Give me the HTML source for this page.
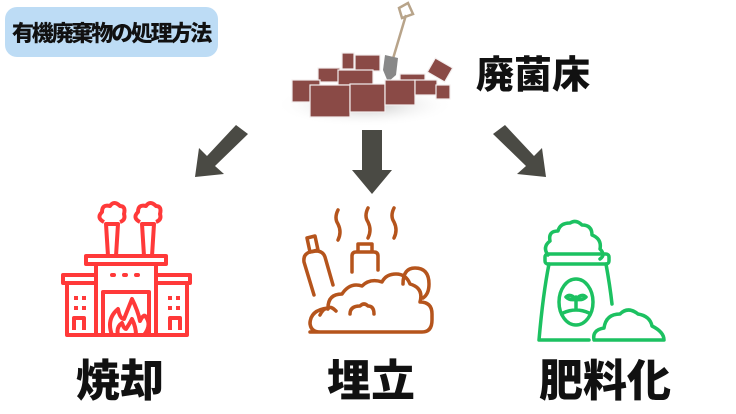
<!DOCTYPE html>
<html><head><meta charset="utf-8"><style>
body{margin:0;width:736px;height:414px;background:#fff;overflow:hidden;position:relative;font-family:"Liberation Sans","Noto Sans CJK JP",sans-serif}
.t{position:absolute;font-weight:900;color:#111;white-space:nowrap}
</style></head><body>
<div style="position:absolute;left:5px;top:7px;width:213px;height:50px;background:#bddcf5;border-radius:12px"></div>
<div class="t" style="left:12px;top:16px;font-size:22px;letter-spacing:-2.2px">有機廃棄物の処理方法</div>
<div class="t" style="left:476px;top:44px;font-size:38px">廃菌床</div>
<div class="t" style="left:76px;top:345px;font-size:44px">焼却</div>
<div class="t" style="left:327px;top:345px;font-size:44px">埋立</div>
<div class="t" style="left:539px;top:345px;font-size:44px">肥料化</div>
<svg width="736" height="414" style="position:absolute;left:0;top:0">
<defs><radialGradient id="sh"><stop offset="0" stop-color="#999" stop-opacity=".6"/><stop offset="1" stop-color="#fff" stop-opacity="0"/></radialGradient></defs>
<ellipse cx="365" cy="105" rx="90" ry="22" fill="url(#sh)"/>
<path d="M408 3 L413 14 L402 18 L399 8 Z M406 15 L392 62" stroke="#b8a48a" stroke-width="2.5" fill="none"/>
<path d="M385 55 L398 58 L396 75 L388 82 L383 70Z" fill="#888"/>
<g fill="#8a4a46" stroke="#f3eeee" stroke-width="1.2">
<rect x="342" y="53" width="12" height="16"/><rect x="355" y="55" width="25" height="16"/>
<rect x="318" y="68" width="22" height="14"/><rect x="338" y="70" width="35" height="15"/>
<rect x="430" y="62" width="20" height="16" transform="rotate(30 440 70)"/>
<rect x="400" y="74" width="25" height="12"/>
<rect x="292" y="80" width="28" height="22"/><rect x="310" y="85" width="40" height="32"/>
<rect x="350" y="84" width="35" height="28"/><rect x="385" y="80" width="30" height="25"/>
<rect x="415" y="80" width="22" height="15"/><rect x="436" y="85" width="14" height="14"/>
</g>
<g fill="#4a4a44">
<path d="M236 125 L248 134 L215 166 L224 174 L195 177 L199 148 L207 156 Z"/>
<path d="M362 130 L382 130 L382 170 L392 170 L372 194 L352 170 L362 170 Z"/>
<path d="M505 125 L493 134 L526 166 L517 174 L546 177 L542 148 L534 156 Z"/>
</g>
<g fill="none" stroke="#ff3939" stroke-width="4" stroke-linejoin="round">
<path d="M104 222 q-8-4-2-10 q0-8 8-6 q4-6 10 0 q6 0 4 8 q2 6-4 8"/>
<path d="M140 222 q-8-4-2-10 q0-8 8-6 q4-6 10 0 q6 0 4 8 q2 6-4 8"/>
<path d="M106 224 L108 256 L116 256 L118 224Z M142 224 L144 256 L152 256 L154 224Z"/>
<rect x="86" y="256" width="80" height="8"/>
<path d="M96 264 L96 335 M156 264 L156 335"/>
<rect x="63" y="275" width="33" height="8"/><rect x="156" y="275" width="34" height="8"/>
<path d="M67 283 L67 335 L187 335 L187 283"/>
<path d="M103 335 L103 292 L149 292 L149 335"/>
<path d="M112 335 q-6-16 6-26 q2 10 6 10 q4-10 8-20 q6 12 8 22 q4-8 6-4 q6 8 -2 18 M118 335 q-2-8 4-12 q2 6 4 6 q4-6 6-10 q4 8 4 16"/>
<path d="M74 330 v-12 h10 v12 M170 330 v-12 h10 v12"/>
</g>
<g fill="#ff3939"><rect x="110" y="273" width="6" height="4" rx="2"/><rect x="122" y="273" width="6" height="4" rx="2"/><rect x="134" y="273" width="6" height="4" rx="2"/>
<rect x="74" y="296" width="4" height="4"/><rect x="82" y="296" width="4" height="4"/><rect x="74" y="306" width="4" height="4"/><rect x="82" y="306" width="4" height="4"/>
<rect x="168" y="296" width="4" height="4"/><rect x="176" y="296" width="4" height="4"/><rect x="168" y="306" width="4" height="4"/><rect x="176" y="306" width="4" height="4"/></g>
<g fill="none" stroke="#b5541c" stroke-width="3.5" stroke-linejoin="round" stroke-linecap="round">
<path d="M338 210 q-4 8 0 14 q4 8 0 16 M368 208 q-4 8 0 14 q4 8 0 16 M394 208 q-4 8 0 14 q4 8 0 16"/>
<path d="M307 238 L315 236 L318 250 L310 252Z"/>
<path d="M314 295 L304 262 q-1-8 6-10 l6-1 q7 0 9 6 l8 28"/>
<path d="M358 252 v-8 h14 v8 M352 272 v-16 q0-4 4-4 h18 q4 0 4 4 v14"/>
<path d="M310 332 h112 q10 0 10-12 v-6 q0-12-12-12 q4-14-10-18 q-4-10-14-10 q-10 0-14 8 q-12-4-20 4 q-12-4-20 8 q-14 0-14 14 q-18 2-18 16 v-2 q0 10 10 10z"/>
<path d="M403 284 q0-16 12-16 q14 0 14 16 q0 10-6 14"/>
<path d="M320 315 q4-8 8-6 q2-4 8 2 M350 314 q0-8 10-8 q4-4 8 0 q6 0 6 8"/>
</g>
<g fill="none" stroke="#1cc161" stroke-width="3.5" stroke-linejoin="round" stroke-linecap="round">
<path d="M548 255 q-6-8 2-14 q-2-10 8-10 q2-8 12-8 q6-4 12 2 q10 0 10 10 q10 4 8 14 q6 6 0 10"/>
<rect x="545" y="254" width="64" height="10" rx="3"/>
<path d="M549 264 q-6 30-10 76 h50 M606 264 q4 22 6 40"/>
<ellipse cx="576" cy="302" rx="17" ry="23"/>
<path d="M576 297 v12 M576 299 q-6-6-10-2 q4 4 10 2 M576 299 q6-6 10-2 q-4 4-10 2 M563 313 q13-6 26 0"/>
<path d="M594 340 q-2-10 10-12 q2-14 16-14 q8-8 18 0 q12 2 14 12 q12 6 12 14z"/>
</g>
</svg>
</body></html>
